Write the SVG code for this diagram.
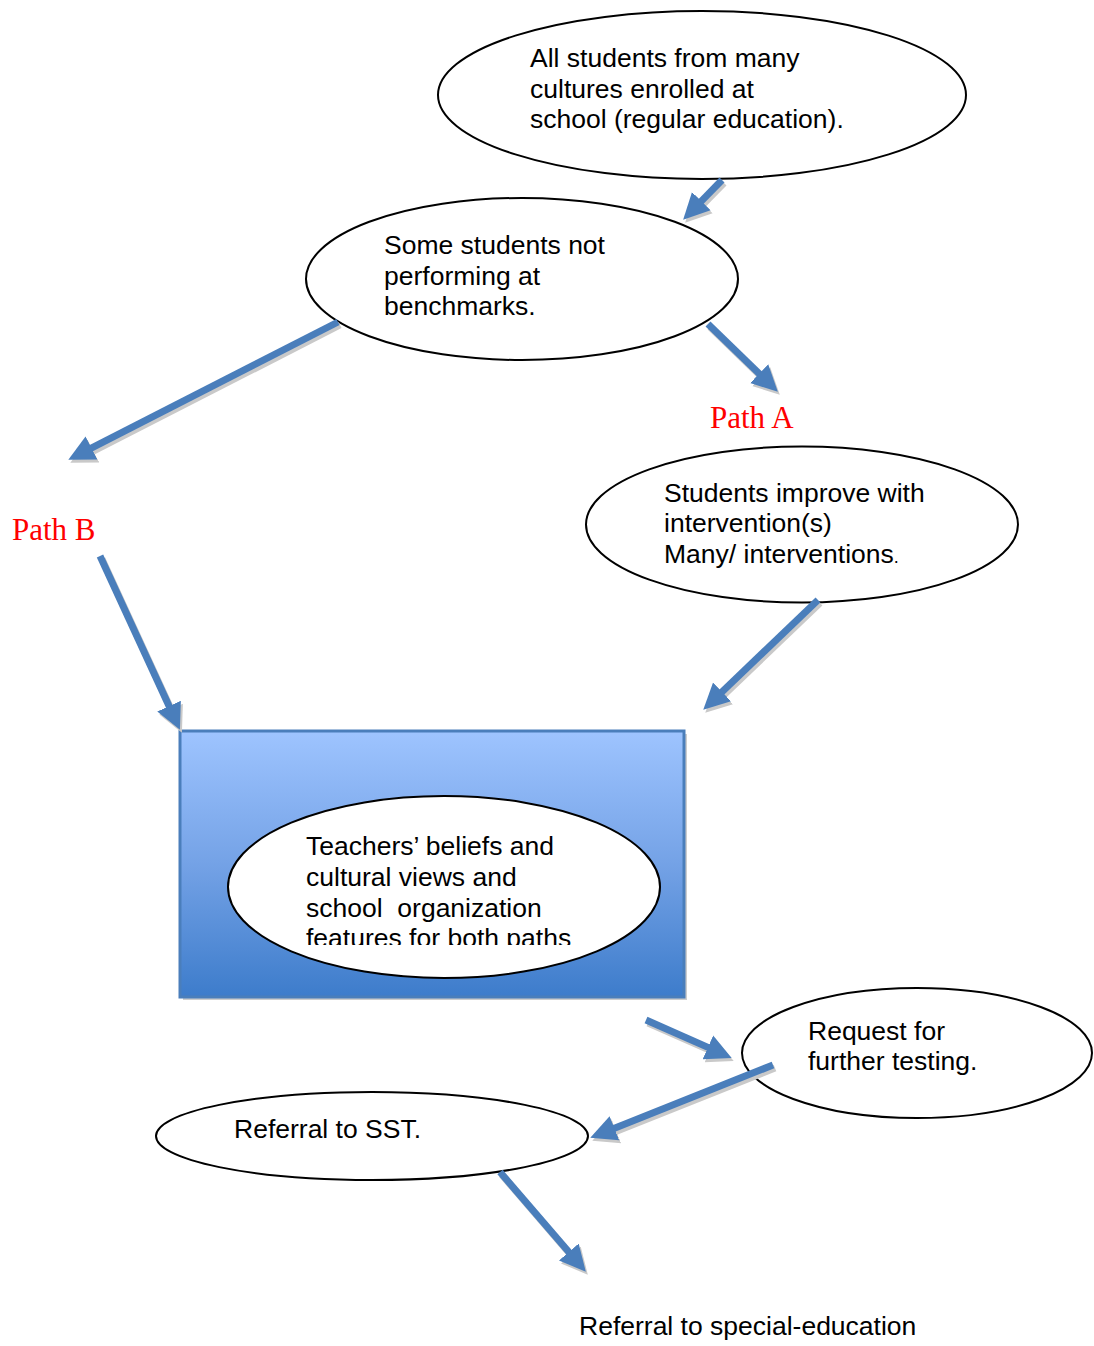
<svg xmlns="http://www.w3.org/2000/svg" width="1094" height="1346" viewBox="0 0 1094 1346">
<style>
.node ellipse{fill:#fff;stroke:#000;stroke-width:2}
.t{font-family:"Liberation Sans",Arial,sans-serif;font-size:26.5px;fill:#000}
.p{font-family:"Liberation Serif","Times New Roman",serif;font-size:31px;fill:#ff0000}
.a{fill:none;stroke:#4a7ebb;stroke-width:7}
.s{fill:none;stroke:#c9c9c9;stroke-width:7}
</style>
<defs>
<linearGradient id="g" x1="0" y1="0" x2="0" y2="1">
<stop offset="0" stop-color="#9ec4ff"/>
<stop offset="0.5" stop-color="#74a2e6"/>
<stop offset="1" stop-color="#3d7ccb"/>
</linearGradient>
<marker id="h" viewBox="0 0 10 10" refX="0.5" refY="5" markerUnits="userSpaceOnUse" markerWidth="26" markerHeight="30" orient="auto">
<path d="M0,0 L10,5 L0,10 z" fill="#4a7ebb"/>
</marker>
<marker id="hs" viewBox="0 0 10 10" refX="0.5" refY="5" markerUnits="userSpaceOnUse" markerWidth="26" markerHeight="30" orient="auto">
<path d="M0,0 L10,5 L0,10 z" fill="#c9c9c9"/>
</marker>
<clipPath id="clipT"><rect x="228" y="796" width="432" height="149"/></clipPath>
</defs>
<rect width="1094" height="1346" fill="#fff"/>

<g id="n1" class="node">
<ellipse cx="702" cy="95" rx="264" ry="84"/>
<text class="t"><tspan x="530" y="67">All students from many</tspan><tspan x="530" y="97.5">cultures enrolled at</tspan><tspan x="530" y="128">school (regular education).</tspan></text>
</g>
<g id="n2" class="node">
<ellipse cx="522" cy="279" rx="216" ry="81"/>
<text class="t"><tspan x="384" y="254">Some students not</tspan><tspan x="384" y="285">performing at</tspan><tspan x="384" y="315">benchmarks.</tspan></text>
</g>
<g id="pathA"><text class="p" x="710" y="428">Path A</text></g>
<g id="pathB"><text class="p" x="12" y="540">Path B</text></g>
<g id="n3" class="node">
<ellipse cx="802" cy="524.5" rx="216" ry="78"/>
<text class="t"><tspan x="664" y="502">Students improve with</tspan><tspan x="664" y="532">intervention(s)</tspan><tspan x="664" y="563">Many/ interventions<tspan font-size="18">.</tspan></tspan></text>
</g>
<g id="box">
<rect x="183" y="734" width="504" height="266" fill="#cdcdcd"/>
<rect x="180" y="731" width="504" height="266" fill="url(#g)" stroke="#4a7ebb" stroke-width="3"/>
</g>
<g id="n4" class="node">
<ellipse cx="444" cy="887" rx="216" ry="91"/>
<text class="t" clip-path="url(#clipT)"><tspan x="306" y="855">Teachers’ beliefs and</tspan><tspan x="306" y="886">cultural views and</tspan><tspan x="306" y="917" xml:space="preserve">school  organization</tspan><tspan x="306" y="947">features for both paths</tspan></text>
</g>
<g id="n5" class="node">
<ellipse cx="917" cy="1053" rx="175" ry="65"/>
<text class="t"><tspan x="808" y="1040">Request for</tspan><tspan x="808" y="1070">further testing.</tspan></text>
</g>
<g id="n6" class="node">
<ellipse cx="372" cy="1136" rx="216" ry="44"/>
<text class="t" x="234" y="1138">Referral to SST.</text>
</g>
<g id="n7"><text class="t" x="579" y="1335">Referral to special-education</text></g>

<g id="connectors">
<g transform="translate(2,3)">
<path class="s" marker-end="url(#hs)" d="M722,180 L700.4,202.1"/>
<path class="s" marker-end="url(#hs)" d="M338,322 L90.3,448.6"/>
<path class="s" marker-end="url(#hs)" d="M708,324 L760.1,374.6"/>
<path class="s" marker-end="url(#hs)" d="M100,556 L169.6,707.3"/>
<path class="s" marker-end="url(#hs)" d="M818,600 L721.1,692.7"/>
<path class="s" marker-end="url(#hs)" d="M646,1020 L709.1,1047.9"/>
<path class="s" marker-end="url(#hs)" d="M773,1065 L613.2,1128.7"/>
<path class="s" marker-end="url(#hs)" d="M500,1172 L569.7,1253"/>
</g>
<path class="a" marker-end="url(#h)" d="M722,180 L700.4,202.1"/>
<path class="a" marker-end="url(#h)" d="M338,322 L90.3,448.6"/>
<path class="a" marker-end="url(#h)" d="M708,324 L760.1,374.6"/>
<path class="a" marker-end="url(#h)" d="M100,556 L169.6,707.3"/>
<path class="a" marker-end="url(#h)" d="M818,600 L721.1,692.7"/>
<path class="a" marker-end="url(#h)" d="M646,1020 L709.1,1047.9"/>
<path class="a" marker-end="url(#h)" d="M773,1065 L613.2,1128.7"/>
<path class="a" marker-end="url(#h)" d="M500,1172 L569.7,1253"/>
</g>
</svg>
